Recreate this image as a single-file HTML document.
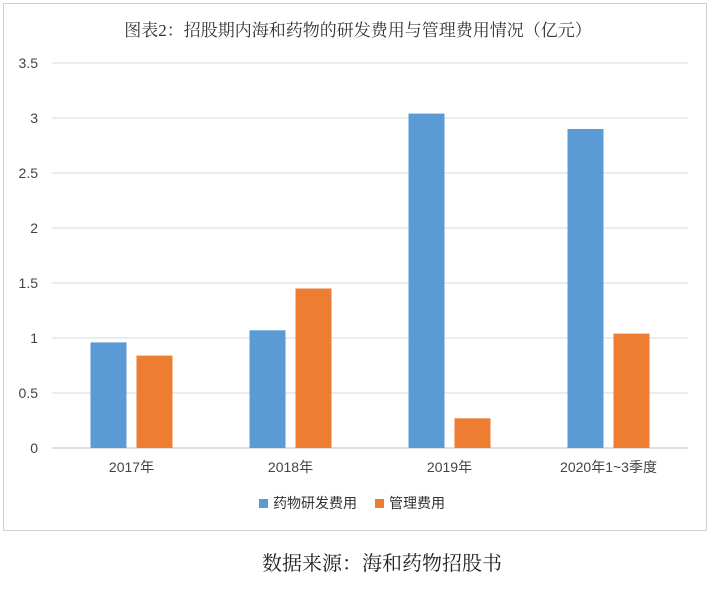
<!DOCTYPE html>
<html><head><meta charset="utf-8"><style>
body{margin:0;background:#fff;width:715px;height:590px;overflow:hidden;font-family:"Liberation Sans","Noto Sans CJK SC",sans-serif;}
</style></head><body>
<svg width="715" height="590" xmlns="http://www.w3.org/2000/svg">
<rect x="3.5" y="3.5" width="703" height="527" fill="#fff" stroke="#d0d0d0"/>
<text x="358" y="36" text-anchor="middle" font-size="17" fill="#333" font-family="'Liberation Serif','Noto Serif CJK SC',serif">图表2：招股期内海和药物的研发费用与管理费用情况（亿元）</text>
<g id="grid"></g><g id="bars"></g><g id="xlabels"></g>
<g>
<rect x="259" y="499" width="9" height="9" fill="#5b9bd5"/>
<text x="273" y="508" font-size="14" fill="#333">药物研发费用</text>
<rect x="375" y="499" width="9" height="9" fill="#ed7d31"/>
<text x="389" y="508" font-size="14" fill="#333">管理费用</text>
</g>
<text x="382" y="570" text-anchor="middle" font-size="20" fill="#222" font-family="'Liberation Serif','Noto Serif CJK SC',serif">数据来源：海和药物招股书</text>
</svg>
<script>
const categories=["2017年","2018年","2019年","2020年1~3季度"];
const rdValues=[0.96,1.07,3.04,2.9];
const adminValues=[0.84,1.45,0.27,1.04];
const yTicks=[0,0.5,1,1.5,2,2.5,3,3.5];
const NS="http://www.w3.org/2000/svg";
const x0=52,x1=688,y0=448,yTop=63,yMax=3.5;
const yScale=v=>y0-(v/yMax)*(y0-yTop);
const band=(x1-x0)/categories.length;
const xCenter=i=>x0+band*(i+0.5);
function mk(tag,attrs){const e=document.createElementNS(NS,tag);for(const k in attrs)e.setAttribute(k,attrs[k]);return e;}
const grid=document.getElementById('grid');
yTicks.forEach(t=>{
 const y=yScale(t);
 const l=mk('line',{x1:x0,x2:x1,y1:y,y2:y,stroke:t===0?'#bfbfbf':'#d9d9d9','stroke-width':1});
 
 
 grid.appendChild(l);
 const tx=mk('text',{x:38,y:y+5,'text-anchor':'end','font-size':14,fill:'#444'});
 tx.textContent=String(t);
 
 
 grid.appendChild(tx);
});
const bars=document.getElementById('bars'),xl=document.getElementById('xlabels');
const bw=36,gap=10;
categories.forEach((c,i)=>{
 const cx=xCenter(i);
 const b1=mk('rect',{x:cx-gap/2-bw,y:yScale(rdValues[i]),width:bw,height:y0-yScale(rdValues[i]),fill:'#5b9bd5'});
 
 
 bars.appendChild(b1);
 const b2=mk('rect',{x:cx+gap/2,y:yScale(adminValues[i]),width:bw,height:y0-yScale(adminValues[i]),fill:'#ed7d31'});
 
 
 bars.appendChild(b2);
 const t=mk('text',{x:cx,y:472,'text-anchor':'middle','font-size':14,fill:'#444'});
 t.textContent=c;
 
 
 xl.appendChild(t);
});
</script>
</body></html>
